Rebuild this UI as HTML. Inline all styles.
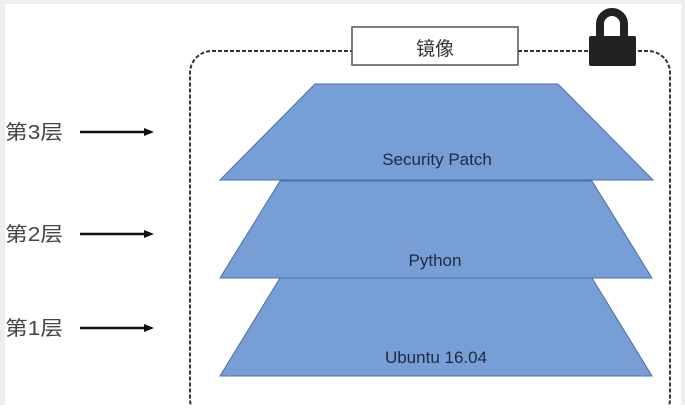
<!DOCTYPE html>
<html><head><meta charset="utf-8"><style>
body{margin:0;width:685px;height:405px;overflow:hidden;background:#fff}
</style></head><body>
<svg width="685" height="405" viewBox="0 0 685 405" xmlns="http://www.w3.org/2000/svg" font-family="Liberation Sans, Noto Sans CJK SC, sans-serif">
<rect x="0" y="0" width="685" height="405" fill="#fff"/>
<rect x="0" y="0" width="685" height="4" fill="#eee"/>
<rect x="0" y="0" width="5" height="405" fill="#eee"/>
<rect x="681" y="0" width="4" height="405" fill="#eee"/>
<rect x="190" y="51" width="480" height="370" rx="22" fill="none" stroke="#333" stroke-width="2" stroke-dasharray="4,2"/>
<rect x="352" y="27" width="166" height="38" fill="#fff" stroke="#555" stroke-width="1.5"/>
<text x="435" y="55" font-size="19" text-anchor="middle" fill="#333">镜像</text>
<!-- lock -->
<path d="M600 38 V24 a12 12 0 0 1 24 0 V38" fill="none" stroke="#222" stroke-width="8"/>
<rect x="589" y="36" width="47" height="30" rx="2" fill="#222"/>
<!-- layers -->
<polygon points="280,278 592,278 652,376 220,376" fill="#779fd6" stroke="#4a6fa8" stroke-width="1"/>
<polygon points="280,181 592,181 652,278 220,278" fill="#779fd6" stroke="#4a6fa8" stroke-width="1"/>
<polygon points="315,84 558,84 653,180 220,180" fill="#779fd6" stroke="#4a6fa8" stroke-width="1"/>
<text x="437" y="165" font-size="17" text-anchor="middle" fill="#1e2a40">Security Patch</text>
<text x="435" y="266" font-size="17" text-anchor="middle" fill="#1e2a40">Python</text>
<text x="436" y="363" font-size="17" text-anchor="middle" fill="#1e2a40">Ubuntu 16.04</text>
<!-- left labels -->
<g font-size="20" fill="#444">
<text x="5" y="139" textLength="58" lengthAdjust="spacingAndGlyphs">第3层</text>
<text x="5" y="241" textLength="58" lengthAdjust="spacingAndGlyphs">第2层</text>
<text x="5" y="335" textLength="58" lengthAdjust="spacingAndGlyphs">第1层</text>
</g>
<g stroke="#111" stroke-width="2.5">
<line x1="80" y1="132" x2="146" y2="132"/>
<line x1="80" y1="234" x2="146" y2="234"/>
<line x1="80" y1="328" x2="146" y2="328"/>
</g>
<g fill="#111">
<polygon points="144,128 154,132 144,136"/>
<polygon points="144,230 154,234 144,238"/>
<polygon points="144,324 154,328 144,332"/>
</g>
</svg>
</body></html>
